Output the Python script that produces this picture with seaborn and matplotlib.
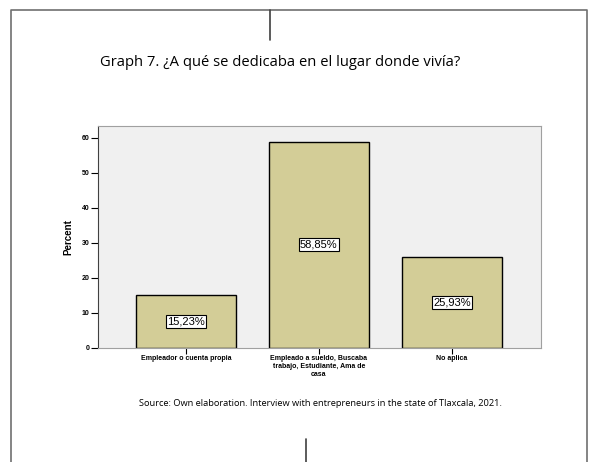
import matplotlib.pyplot as plt
import seaborn as sns
import pandas as pd

categories = ['Empleador o cuenta propia',
              'Empleado a sueldo, Buscaba\ntrabajo, Estudiante, Ama de\ncasa',
              'No aplica']
percent = [15.23, 58.85, 25.93]
value_labels = ['15,23%', '58,85%', '25,93%']

df = pd.DataFrame({'cat': categories, 'pct': percent})

sns.set_style('white')
plt.rcParams['font.family'] = ['Liberation Sans', 'DejaVu Sans']
plt.rcParams['text.color'] = 'black'
plt.rcParams['xtick.color'] = 'black'
plt.rcParams['ytick.color'] = 'black'
plt.rcParams['axes.labelcolor'] = 'black'

W, H = 591, 462
fig = plt.figure(figsize=(W / 100, H / 100), dpi=100)

# page frame lines
fig.add_artist(plt.Line2D([11 / W, 11 / W, 587 / W, 587 / W], [0, 1 - 10 / H, 1 - 10 / H, 0],
                          color='#707070', lw=1.2))
fig.add_artist(plt.Line2D([270 / W, 270 / W], [1 - 10 / H, 1 - 40 / H], color='#404040', lw=1.2))
fig.add_artist(plt.Line2D([306 / W, 306 / W], [1 - 439 / H, 0], color='#404040', lw=1.2))

ax = fig.add_axes([98 / W, 1 - 348 / H, (541 - 98) / W, (348 - 126) / H])
ax.set_facecolor('#f0f0f0')
sns.barplot(data=df, x='cat', y='pct', color='#d3cd97', edgecolor='black', linewidth=1,
            width=0.75, saturation=1, ax=ax)
ax.set_xlim(-0.66, 2.67)
ax.set_ylim(0, 63.3)
ax.set_yticks([0, 10, 20, 30, 40, 50, 60])
for i, (v, lab) in enumerate(zip(percent, value_labels)):
    ax.text(i, v / 2, lab, ha='center', va='center', fontsize=8,
            bbox=dict(boxstyle='square,pad=0.12', fc='white', ec='black', lw=0.8))

ax.set_xlabel('')
ax.set_ylabel('Percent', fontsize=7, fontweight='bold', labelpad=6)
ax.tick_params(axis='x', labelsize=5, length=4, width=0.8, pad=1, direction='out', bottom=True)
ax.tick_params(axis='y', labelsize=5, length=5, width=0.8, pad=1, direction='out', left=True)
for lab in ax.get_xticklabels() + ax.get_yticklabels():
    lab.set_fontweight('bold')
for s in ax.spines.values():
    s.set_color('#a0a0a0')
    s.set_linewidth(0.8)
ax.spines['left'].set_color('#404040')

fig.text(280 / W, 1 - 63 / H, 'Graph 7. ¿A qué se dedicaba en el lugar donde vivía?',
         ha='center', va='center', fontsize=10.6, family=['Open Sans', 'DejaVu Sans'])
fig.text(320 / W, 1 - 403 / H,
         'Source: Own elaboration. Interview with entrepreneurs in the state of Tlaxcala, 2021.',
         ha='center', va='center', fontsize=6.7, family=['Open Sans', 'DejaVu Sans'])

fig.savefig('out.png', dpi=100)
